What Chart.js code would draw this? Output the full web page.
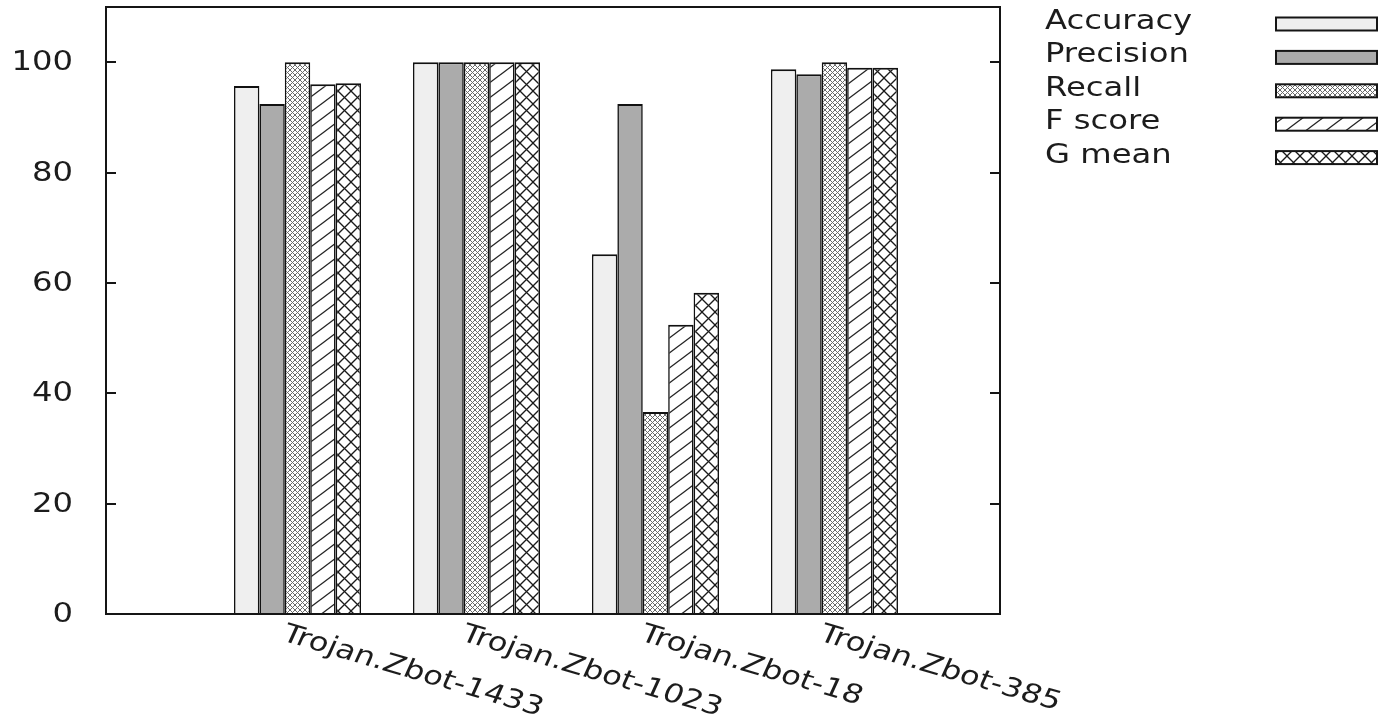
<!DOCTYPE html>
<html>
<head>
<meta charset="utf-8">
<title>Trojan.Zbot detection scores</title>
<script src="https://cdn.jsdelivr.net/npm/chart.js@4/dist/chart.umd.min.js"></script>
<style>
  html, body { margin: 0; padding: 0; background: #ffffff; }
  #chart { display: block; }
</style>
</head>
<body>
<canvas id="chart" width="1382" height="720"></canvas>
<script>
// gnuplot style clustered histogram, redone with chart.js
// values

var categories = ['Trojan.Zbot-1433', 'Trojan.Zbot-1023', 'Trojan.Zbot-18', 'Trojan.Zbot-385'];
var seriesNames = ['Accuracy', 'Precision', 'Recall', 'F score', 'G mean'];

var accuracy = [95.7, 100, 65.2, 98.7];
var precision = [92.4, 100, 92.4, 97.8];
var recall = [100, 100, 36.6, 100];
var fScore = [96.0, 100, 52.4, 99.0];
var gMean = [96.2, 100, 58.2, 99.0];

var yTickValues = [0, 20, 40, 60, 80, 100];

(function () {
  var FONT = '26px "DejaVu Sans"';
  var TEXT_COLOR = '#1c1c1c';
  var STRETCH = 1.24; // picture looks stretched sideways, text too

  /* small tiles used as fill patterns for the bars */
  function makePattern(w, h, draw) {
    var c = document.createElement('canvas');
    c.width = w;
    c.height = h;
    var g = c.getContext('2d');
    g.fillStyle = '#ffffff';
    g.fillRect(0, 0, w, h);
    draw(g, w, h);
    return g.createPattern(c, 'repeat');
  }

  function tiledLines(g, w, h, segs) {
    for (var dx = -w; dx <= w; dx += w) {
      for (var dy = -h; dy <= h; dy += h) {
        segs.forEach(function (s) {
          g.beginPath();
          g.moveTo(s[0] + dx, s[1] + dy);
          g.lineTo(s[2] + dx, s[3] + dy);
          g.stroke();
        });
      }
    }
  }

  var recallFill = makePattern(5, 5, function (g, w, h) {
    g.strokeStyle = '#6a6a6a';
    g.lineWidth = 1;
    tiledLines(g, w, h, [[0, 0, w, h], [0, h, w, 0]]);
  });

  var fScoreFill = makePattern(20, 15, function (g, w, h) {
    g.strokeStyle = '#222222';
    g.lineWidth = 1.3;
    tiledLines(g, w, h, [[0, h, w, 0]]);
  });

  var gMeanFill = makePattern(13, 13, function (g, w, h) {
    g.strokeStyle = '#1a1a1a';
    g.lineWidth = 1.3;
    tiledLines(g, w, h, [[0, 0, w, h], [0, h, w, 0]]);
  });

  var seriesValues = [accuracy, precision, recall, fScore, gMean];
  var seriesFills = ['#efefef', '#ababab', recallFill, fScoreFill, gMeanFill];

  var datasets = seriesNames.map(function (name, j) {
    return {
      label: name,
      data: seriesValues[j].map(function (v, i) { return { x: i, y: v }; }),
      backgroundColor: seriesFills[j],
      borderColor: '#111111',
      borderWidth: { top: 2, left: 1.6, right: 1.6, bottom: 0 },
      borderSkipped: 'start'
    };
  });

  function stretchedText(ctx, text, x, y, align, baseline, angle) {
    ctx.save();
    ctx.translate(x, y);
    ctx.scale(STRETCH, 1);
    if (angle) ctx.rotate(angle);
    ctx.font = FONT;
    ctx.fillStyle = TEXT_COLOR;
    ctx.textAlign = align;
    ctx.textBaseline = baseline;
    ctx.fillText(text, 0, 0);
    ctx.restore();
  }

  /* frame, mirrored ticks, tick labels and the key, gnuplot fashion */
  var gnuplotLook = {
    id: 'gnuplotLook',
    afterDatasetsDraw: function (chart) {
      var ctx = chart.ctx;
      var area = chart.chartArea;
      var xs = chart.scales.x;
      var ys = chart.scales.y;

      ctx.save();
      ctx.strokeStyle = '#151515';
      ctx.lineWidth = 2;
      ctx.strokeRect(area.left, area.top, area.right - area.left, area.bottom - area.top);

      yTickValues.forEach(function (v) {
        var py = Math.round(ys.getPixelForValue(v));
        ctx.beginPath();
        ctx.moveTo(area.left, py);
        ctx.lineTo(area.left + 10, py);
        ctx.moveTo(area.right - 10, py);
        ctx.lineTo(area.right, py);
        ctx.stroke();
        stretchedText(ctx, String(v), area.left - 33, py + 1, 'right', 'middle');
      });

      // rotated category labels hang under each cluster
      categories.forEach(function (name, i) {
        var px = xs.getPixelForValue(i);
        stretchedText(ctx, name, px - 17, area.bottom + 26, 'left', 'alphabetic', 20 * Math.PI / 180);
      });

      // key on the right: text then swatch
      seriesNames.forEach(function (name, j) {
        var cy = 24 + j * 33.4;
        stretchedText(ctx, name, 1045, cy + 5, 'left', 'alphabetic');
        ctx.fillStyle = seriesFills[j];
        ctx.fillRect(1276, cy - 6.5, 101, 13);
        ctx.strokeRect(1276, cy - 6.5, 101, 13);
      });
      ctx.restore();
    }
  };

  var canvas = document.getElementById('chart');
  new Chart(canvas, {
    type: 'bar',
    data: { datasets: datasets },
    options: {
      responsive: false,
      animation: false,
      devicePixelRatio: 1,
      categoryPercentage: 0.71,
      barPercentage: 1,
      layout: { padding: { left: 0, right: 382, top: 7, bottom: 0 } },
      plugins: {
        legend: { display: false },
        tooltip: { enabled: false }
      },
      scales: {
        x: {
          type: 'linear',
          min: -1.07,
          max: 3.925,
          offset: false,
          grid: { display: false, offset: false },
          border: { display: false },
          ticks: { display: false },
          afterBuildTicks: function (scale) {
            scale.ticks = categories.map(function (c, i) { return { value: i }; });
          },
          afterFit: function (scale) { scale.height = 106; }
        },
        y: {
          min: 0,
          max: 110,
          grid: { display: false },
          border: { display: false },
          ticks: { display: false, stepSize: 20 },
          afterFit: function (scale) { scale.width = 106; }
        }
      }
    },
    plugins: [gnuplotLook]
  });
})();
</script>
</body>
</html>
